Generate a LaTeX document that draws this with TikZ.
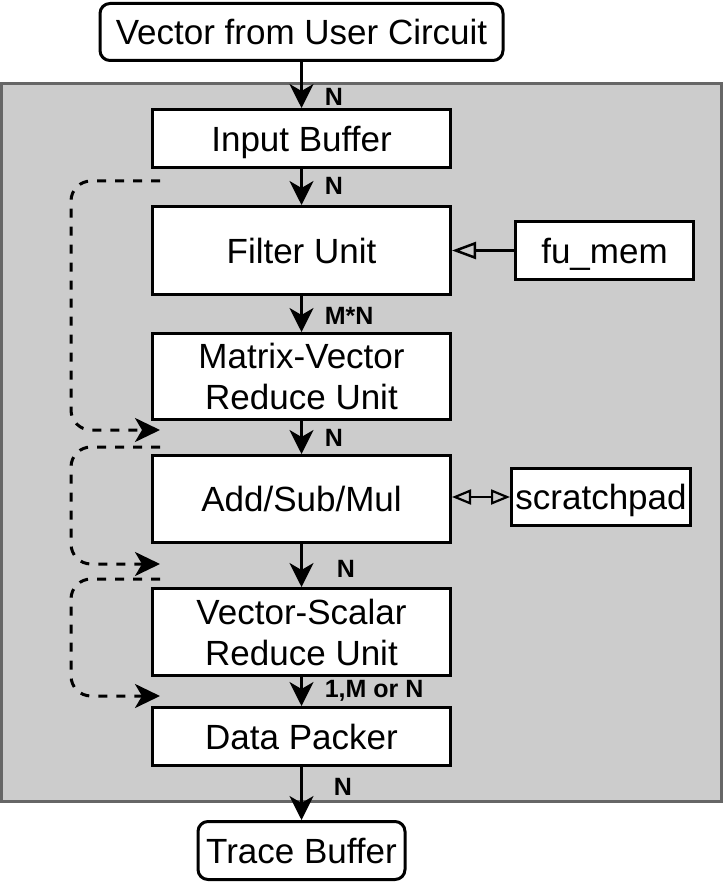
\documentclass[tikz,border=0pt]{standalone}
\usepackage{fontspec}
\setmainfont{Liberation Sans}
\usetikzlibrary{arrows.meta}
\definecolor{coregray}{HTML}{CCCCCC}
\definecolor{coreedge}{HTML}{666666}
\tikzset{%
    unit/.style={%
        draw, line width=3pt, fill=white, inner sep=0pt, align=center,
        minimum width=298pt, text depth=0pt, font=\fontsize{35}{41}\selectfont
    },
    term/.style={unit, rounded corners=10pt},
    flow/.style={-{Stealth[length=24pt,width=24pt,inset=7pt]}, line width=2.5pt},
    feed/.style={-{Triangle[open,length=24pt,width=17pt]}, line width=2.5pt},
    swap/.style={{Triangle[open,length=19pt,width=15pt]}-{Triangle[open,length=19pt,width=15pt]}, line width=2.2pt},
    loop/.style={%
        -{Stealth[length=25pt,width=24pt,inset=7pt]}, line width=3pt,
        dash pattern=on 9pt off 9pt, rounded corners=20pt
    },
    lbl/.style={anchor=west, inner sep=0pt, xshift=22pt, font=\fontsize{25}{30}\bfseries}
}
\begin{document}
\begin{tikzpicture}[x=1pt,y=-1pt]
    \useasboundingbox (0,0) rectangle (723,882);
    % core of the trace unit
    \draw[line width=3pt, draw=coreedge, fill=coregray] (1.5,83.5) rectangle (721.5,801.5);
    \node[term, minimum width=403pt, minimum height=57pt] (src) at (301.5,32) {Vector from User Circuit};
    \node[unit, minimum height=58pt] (ib) at (301.5,138.5) {Input Buffer};
    \node[unit, minimum height=88pt] (fu) at (301.5,250.5) {Filter Unit};
    \node[unit, minimum height=86pt] (mv) at (301.5,376.5) {Matrix-Vector\\Reduce Unit};
    \node[unit, minimum height=87pt] (asm) at (301.5,499) {Add/Sub/Mul};
    \node[unit, minimum height=87pt] (vs) at (301.5,632) {Vector-Scalar\\Reduce Unit};
    \node[unit, minimum height=58pt] (dp) at (301.5,736.5) {Data Packer};
    \node[term, minimum width=207pt, minimum height=58pt] (tb) at (301.5,850.5) {Trace Buffer};
    \node[unit, minimum width=178pt, minimum height=58pt] (fumem) at (604.5,250.5) {fu\_mem};
    \node[unit, minimum width=179pt, minimum height=57pt] (sp) at (601,497) {scratchpad};
    % main data path
    \draw[flow] (src) -- node[lbl, pos=0.76]{N} (ib);
    \draw[flow] (ib) -- node[lbl, pos=0.47]{N} (fu);
    \draw[flow] (fu) -- node[lbl, pos=0.54]{M*N} (mv);
    \draw[flow] (mv) -- node[lbl, pos=0.52]{N} (asm);
    \draw[flow] (asm) -- node[lbl, pos=0.58, xshift=12pt]{N} (vs);
    \draw[flow] (vs) -- node[lbl, pos=0.47]{1,M or N} (dp);
    \draw[flow] (dp) -- node[lbl, pos=0.38, xshift=9pt]{N} (tb);
    % memories
    \draw[feed] (fumem) -- (fu);
    \draw[swap] (sp.west -| asm.east) -- (sp.west);
    % bypass paths
    \coordinate (b1s) at (160,181);
    \coordinate (b1e) at (160,430);
    \coordinate (b2s) at (160,447);
    \coordinate (b2e) at (160,564);
    \coordinate (b3s) at (160,579);
    \coordinate (b3e) at (160,696);
    \draw[loop] (b1s) -- ++(-89,0) |- (b1e);
    \draw[loop] (b2s) -- ++(-89,0) |- (b2e);
    \draw[loop] (b3s) -- ++(-89,0) |- (b3e);
\end{tikzpicture}
\end{document}
